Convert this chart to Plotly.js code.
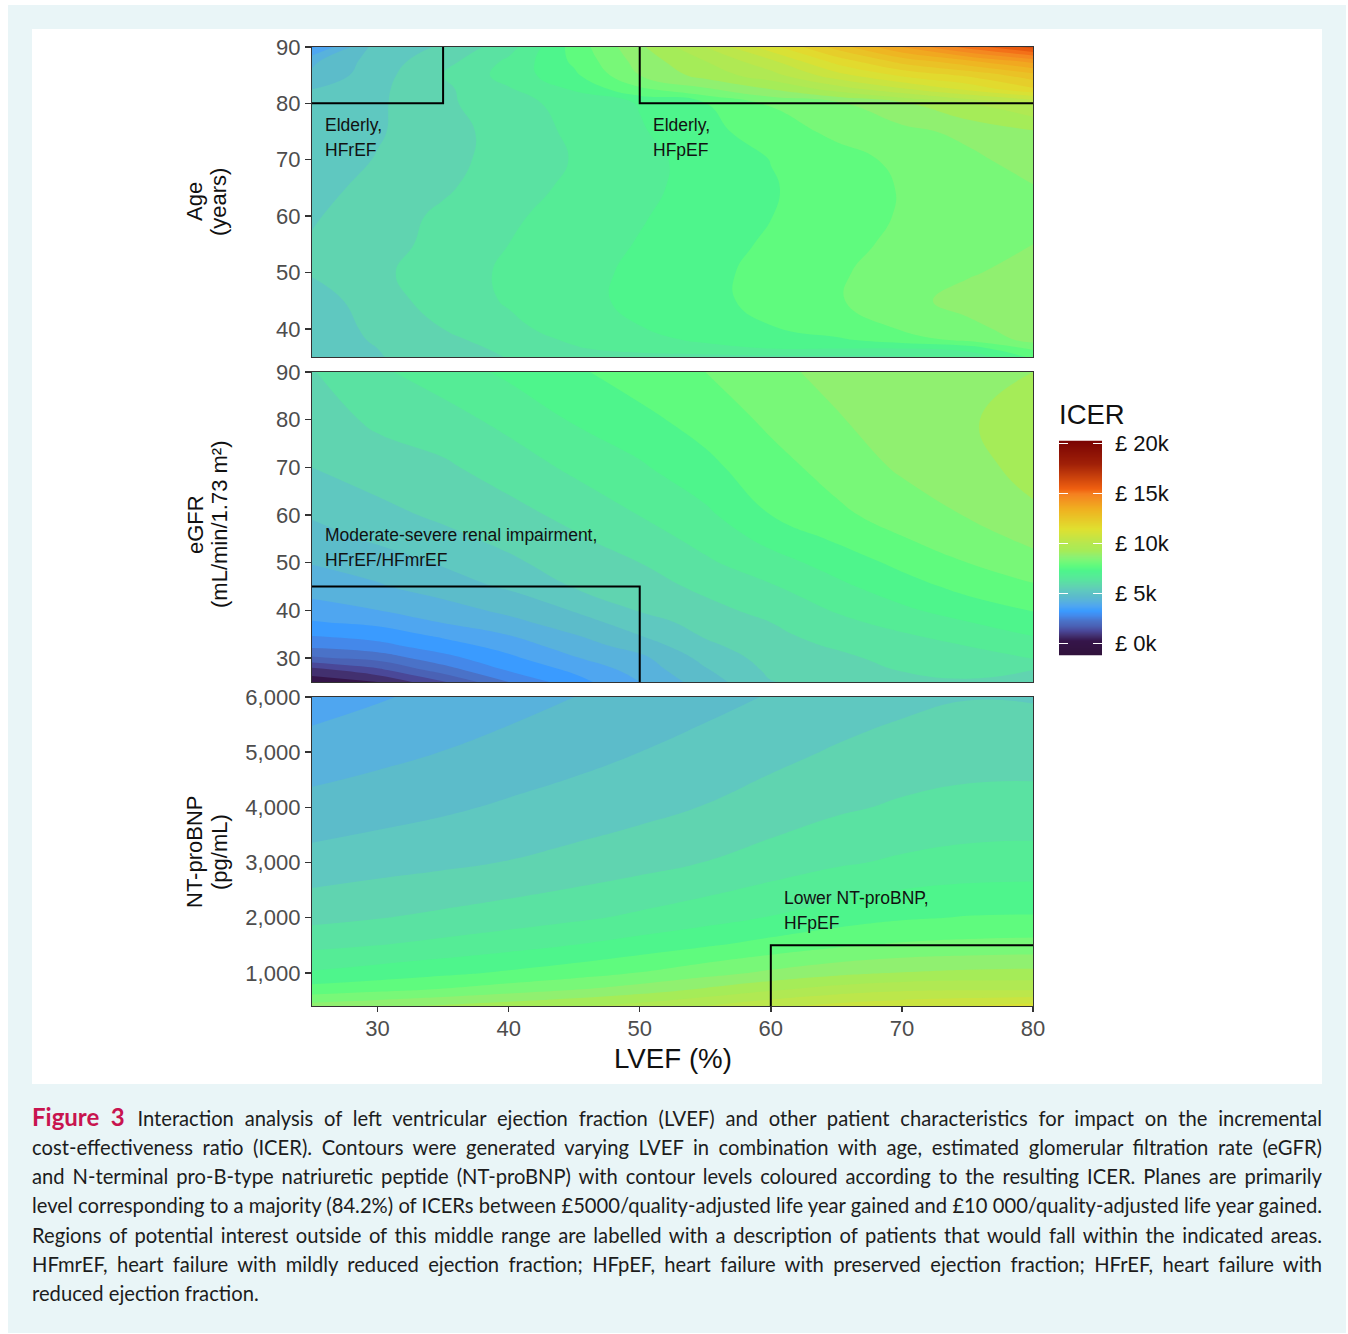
<!DOCTYPE html>
<html>
<head>
<meta charset="utf-8">
<script src="https://cdn.plot.ly/plotly-3.0.1.min.js"></script>
<style>
html,body{margin:0;padding:0;background:#fff;}
#box{position:absolute;left:8px;top:5px;width:1338px;height:1328px;background:#e9f5f7;}
#card{position:absolute;left:32px;top:29px;width:1290px;height:1055px;background:#fff;}
#chart{position:absolute;left:0;top:0;width:1348px;height:1090px;}
#caption{position:absolute;left:32px;top:1101.5px;width:1290px;font-family:Lato,"Noto Sans",sans-serif;font-size:20.2px;line-height:29.3px;color:#1c1c1c;}
#caption div{white-space:nowrap;text-align:justify;text-align-last:justify;}
#caption div.last{text-align-last:left;}
#caption b{color:#c8144f;font-size:24px;margin-right:2px;}
</style>
</head>
<body>
<div id="box"></div>
<div id="card"></div>
<div id="chart"></div>
<div id="caption">
<div><b>Figure 3</b> Interaction analysis of left ventricular ejection fraction (LVEF) and other patient characteristics for impact on the incremental</div>
<div>cost-effectiveness ratio (ICER). Contours were generated varying LVEF in combination with age, estimated glomerular filtration rate (eGFR)</div>
<div>and N-terminal pro-B-type natriuretic peptide (NT-proBNP) with contour levels coloured according to the resulting ICER. Planes are primarily</div>
<div>level corresponding to a majority (84.2%) of ICERs between £5000/quality-adjusted life year gained and £10 000/quality-adjusted life year gained.</div>
<div>Regions of potential interest outside of this middle range are labelled with a description of patients that would fall within the indicated areas.</div>
<div>HFmrEF, heart failure with mildly reduced ejection fraction; HFpEF, heart failure with preserved ejection fraction; HFrEF, heart failure with</div>
<div class="last">reduced ejection fraction.</div>
</div>
<script>
// ICER in £ thousands
const lvef = [25,30,35,40,45,50,55,60,65,70,75,80];

const ageRows = [35,36.5,38,40,45,50,55,60,65,70,75,80,82.5,85,87.5,90];
const zAge = [
 [5.05,5.47,5.75,6.02,6.2,6.3,6.35,6.4,6.42,6.46,6.65,7.6],
 [5.1,5.5,5.8,6.1,6.45,6.7,6.85,7.0,7.0,7.0,7.2,8.1],
 [5.15,5.57,5.87,6.23,6.58,6.85,7.08,7.24,7.4,7.75,8.1,8.65],
 [5.2,5.62,6.0,6.38,6.7,6.98,7.22,7.47,7.76,8.03,8.35,8.75],
 [5.25,5.77,6.22,6.55,6.85,7.12,7.37,7.65,7.95,8.32,8.7,8.85],
 [5.55,5.9,6.26,6.58,6.84,7.1,7.37,7.65,7.94,8.2,8.44,8.7],
 [5.55,5.8,6.16,6.5,6.77,7.03,7.3,7.57,7.86,8.1,8.3,8.5],
 [5.45,5.77,6.09,6.42,6.7,6.96,7.22,7.49,7.77,8.04,8.27,8.45],
 [5.35,5.64,5.93,6.28,6.61,6.89,7.17,7.46,7.75,8.03,8.27,8.47],
 [5.2,5.53,5.85,6.19,6.53,6.86,7.18,7.51,7.81,8.11,8.39,8.7],
 [5.1,5.45,5.81,6.2,6.6,6.95,7.34,7.76,8.11,8.37,8.62,8.95],
 [5.2,5.42,5.9,6.32,6.68,7.03,7.49,8.05,8.4,8.9,9.5,10.0],
 [5.0,5.4,5.9,6.45,7.05,7.9,8.4,9.0,9.7,10.4,11.1,11.9],
 [4.6,5.3,6.0,6.7,7.4,8.5,9.2,9.8,10.8,11.6,12.1,12.8],
 [4.4,5.25,5.8,6.6,7.6,8.7,9.5,10.4,11.7,12.7,13.4,14.2],
 [3.4,5.25,5.55,6.3,7.7,8.9,10.0,11.3,12.7,14.0,15.2,16.2]
];

const egfrRows = [25,27.5,30,32.5,35,37.5,40,45,50,55,60,70,80,90];
// one inner list per LVEF column
const zEgfr = [
 [0.2,0.79,1.9,2.6,3.07,3.46,3.74,4.27,4.52,4.79,5.05,5.5,5.75,5.97],
 [0.5,1.37,2.17,2.83,3.24,3.62,3.99,4.44,4.75,5.08,5.34,5.75,6.1,6.42],
 [1.45,2.25,2.82,3.25,3.63,4.02,4.27,4.76,5.05,5.35,5.6,5.92,6.3,6.75],
 [2.5,3.05,3.38,3.7,4.02,4.35,4.62,5.07,5.4,5.64,5.83,6.23,6.65,7.1],
 [3.3,3.6,3.96,4.25,4.5,4.77,5.03,5.53,5.75,5.93,6.14,6.6,7.05,7.42],
 [4.0,4.2,4.37,4.7,5.02,5.27,5.53,5.77,6,6.26,6.51,6.93,7.36,7.75],
 [4.75,4.95,5.15,5.38,5.57,5.7,5.84,6.12,6.42,6.66,6.89,7.36,7.71,8.0],
 [5.48,5.6,5.7,5.8,5.9,6.0,6.16,6.45,6.8,7.15,7.5,7.83,8.1,8.35],
 [5.6,5.73,5.88,6.05,6.2,6.37,6.54,6.88,7.2,7.57,7.9,8.18,8.45,8.68],
 [5.9,6.02,6.17,6.32,6.46,6.67,6.9,7.28,7.63,7.97,8.2,8.58,8.8,8.95],
 [5.95,6.13,6.31,6.5,6.74,6.98,7.24,7.66,8.0,8.27,8.53,8.8,8.93,8.85],
 [5.85,6.0,6.53,6.78,7.04,7.28,7.52,7.94,8.32,8.62,8.9,9.2,9.3,9.0]
];

const bnpRows = [400,700,1000,1500,2000,3000,4000,5000,6000];
// one inner list per LVEF column
const zBnp = [
 [8.7,7.7,7.05,6.38,5.86,5.19,4.66,4.23,3.75],
 [8.88,7.85,7.22,6.5,5.98,5.3,4.79,4.36,3.95],
 [9.07,8.03,7.39,6.65,6.11,5.4,4.92,4.51,4.14],
 [9.26,8.25,7.57,6.82,6.25,5.52,5.07,4.67,4.32],
 [9.45,8.48,7.77,7.01,6.41,5.66,5.21,4.83,4.5],
 [9.68,8.74,8.02,7.22,6.6,5.82,5.35,5.0,4.68],
 [10.0,9.07,8.31,7.45,6.8,6.01,5.52,5.17,4.85],
 [10.38,9.42,8.6,7.69,7.03,6.22,5.72,5.36,5.03],
 [10.66,9.72,8.85,7.92,7.26,6.43,5.92,5.55,5.21],
 [10.85,9.9,9.02,8.07,7.44,6.58,6.07,5.7,5.37],
 [11.0,9.95,9.11,8.14,7.53,6.68,6.16,5.79,5.48],
 [11.2,9.93,9.15,8.18,7.55,6.71,6.18,5.8,5.46]
];

const rampZ = [-1.25,0.25,0.75,1.25,1.75,2.25,2.75,3.25,3.75,4.25,4.75,5.25,5.75,6.25,6.75,7.25,7.75,8.25,8.75,9.25,10,11.5,13.5,15,15.5,18,20.25];
const rampColors = ['#30123b','#35154a','#42306f','#4a4898','#4a62b5','#4a72c8','#4488ea','#3a9bff','#4fa6f0','#58b2dc','#5cbcca','#5fc8c0','#60d4b0','#5ae2a2','#55ec96','#4ef58c','#5ffb7e','#78f878','#90f070','#a5ec58','#b5e850','#e0e030','#f0b020','#f58020','#f06010','#a02008','#7a0403'];
const legendTicks = [0,5,10,15,20];
const legendTickText = ['£ 0k','£ 5k','£ 10k','£ 15k','£ 20k'];
const lvefTicks = [30,40,50,60,70,80];
const ageTicks = [40,50,60,70,80,90];
const egfrTicks = [30,40,50,60,70,80,90];
const bnpTicks = [1000,2000,3000,4000,5000,6000];

const boxes = [
 {xa:'x',  ya:'y',  x:[25,35,35], y:[80,80,90]},
 {xa:'x',  ya:'y',  x:[50,50,80], y:[90,80,80]},
 {xa:'x2', ya:'y2', x:[25,50,50], y:[45,45,25]},
 {xa:'x3', ya:'y3', x:[60,60,80], y:[400,1500,1500]}
];
const notes = [
 ['Elderly,',25.85,76.2,'x','y'],['HFrEF',25.85,71.8,'x','y'],
 ['Elderly,',50.85,76.2,'x','y'],['HFpEF',50.85,71.8,'x','y'],
 ['Moderate-severe renal impairment,',25.85,55.8,'x2','y2'],['HFrEF/HFmrEF',25.85,50.6,'x2','y2'],
 ['Lower NT-proBNP,',60.85,2360,'x3','y3'],['HFpEF',60.85,1910,'x3','y3']
];

const W = 1348, H = 1090;
const FONT = '"Liberation Sans",Arial,sans-serif';
const zLo = rampZ[0], zHi = rampZ[rampZ.length-1];
const scale = rampZ.map((v,i)=>[(v-zLo)/(zHi-zLo), rampColors[i]]);
const dx = (a,b)=>[a/W,b/W];
const dy = (top,bottom)=>[1-bottom/H,1-top/H];

function contourTrace(y,z,xaxis,yaxis,transpose){
  return {type:'contour',x:lvef,y:y,z:z,transpose:transpose,xaxis:xaxis,yaxis:yaxis,
    colorscale:scale,zmin:zLo,zmax:zHi,showscale:false,
    contours:{start:-1,end:20,size:0.5,coloring:'fill',showlines:false},
    line:{width:0,smoothing:1.3},hoverinfo:'skip'};
}
const traces = [
  contourTrace(ageRows,zAge,'x','y',false),
  contourTrace(egfrRows,zEgfr,'x2','y2',true),
  contourTrace(bnpRows,zBnp,'x3','y3',true),
  {type:'heatmap',x:[0,1],y:rampZ,z:rampZ.map(v=>[v,v]),xaxis:'x4',yaxis:'y4',colorscale:scale,
   zmin:zLo,zmax:zHi,zsmooth:'best',showscale:false,hoverinfo:'skip'}
];
boxes.forEach(b=>traces.push({type:'scatter',mode:'lines',x:b.x,y:b.y,xaxis:b.xa,yaxis:b.ya,
  line:{color:'#000',width:2},hoverinfo:'skip',showlegend:false}));

const frame = {showline:true,mirror:true,linecolor:'#333',linewidth:1.2,showgrid:false,zeroline:false};
const tickFont = {family:FONT,size:22,color:'#4d4d4d'};
const yBase = Object.assign({ticks:'outside',ticklen:6,tickwidth:1.4,tickcolor:'#333',tickfont:tickFont},frame);
const xBase = Object.assign({domain:dx(312,1033),range:[25,80],ticks:'',showticklabels:false},frame);
const lbl = (t,x,y,size,rot)=>({text:t,xref:'paper',yref:'paper',x:x/W,y:1-y/H,showarrow:false,
  xanchor:'center',yanchor:'middle',textangle:rot||0,font:{family:FONT,size:size,color:'#111'}});

const annotations = notes.map(n=>({text:n[0],x:n[1],y:n[2],xref:n[3],yref:n[4],showarrow:false,
  xanchor:'left',yanchor:'middle',font:{family:FONT,size:17.5,color:'#111'}}));
annotations.push(
  lbl('Age',195,202,22,-90), lbl('(years)',219,202,22,-90),
  lbl('eGFR',195,525,22,-90), lbl('(mL/min/1.73 m²)',219,525,22,-90),
  lbl('NT-proBNP',194,852,22,-90), lbl('(pg/mL)',219,852,22,-90),
  lbl('LVEF (%)',673,1058,27.7),
  Object.assign(lbl('ICER',1057,414,27.5),{xanchor:'left'})
);

const layout = {
  width:W,height:H,margin:{l:0,r:0,t:0,b:0},paper_bgcolor:'rgba(0,0,0,0)',plot_bgcolor:'rgba(0,0,0,0)',
  showlegend:false,
  xaxis:Object.assign({},xBase,{anchor:'y'}),
  xaxis2:Object.assign({},xBase,{anchor:'y2'}),
  xaxis3:Object.assign({},xBase,{anchor:'y3',ticks:'outside',showticklabels:true,tickvals:lvefTicks,ticklen:5,tickwidth:1.4,tickcolor:'#333',tickfont:tickFont,ticklabelstandoff:-3}),
  yaxis:Object.assign({},yBase,{anchor:'x',domain:dy(47,357),range:[35,90],tickvals:ageTicks}),
  yaxis2:Object.assign({},yBase,{anchor:'x2',domain:dy(372,682),range:[25,90],tickvals:egfrTicks}),
  yaxis3:Object.assign({},yBase,{anchor:'x3',domain:dy(697,1006),range:[400,6000],tickvals:bnpTicks,tickformat:','}),
  xaxis4:{domain:dx(1059,1102),range:[0,1],anchor:'y4',showticklabels:false,ticks:'',showline:false,showgrid:false,zeroline:false},
  yaxis4:{domain:dy(440.5,655.5),range:[zLo,zHi],anchor:'x4',side:'right',tickvals:legendTicks,ticktext:legendTickText,
    ticks:'inside',ticklen:9,tickwidth:1,tickcolor:'#ffffff',mirror:'ticks',ticklabelstandoff:12,
    showline:false,showgrid:false,zeroline:false,tickfont:{family:FONT,size:22,color:'#111'}},
  annotations:annotations
};
Plotly.newPlot('chart',traces,layout,{displayModeBar:false,staticPlot:true});
</script>
</body>
</html>
